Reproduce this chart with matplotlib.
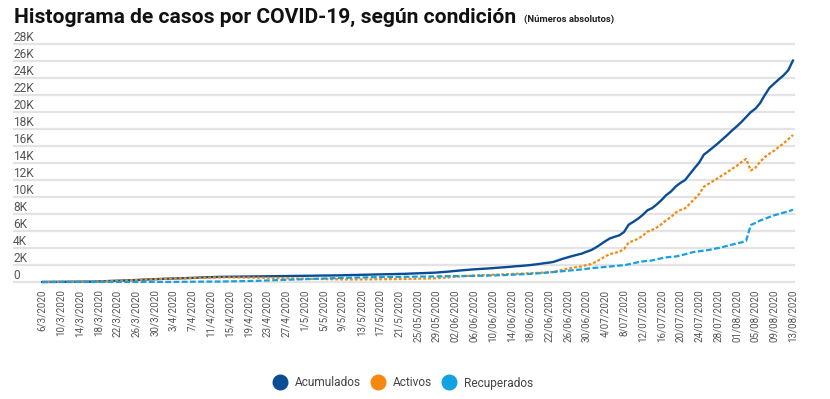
import numpy as np
import matplotlib
matplotlib.use("Agg")
import matplotlib.pyplot as plt
from matplotlib.lines import Line2D

# ---------------- data (daily, 6/3/2020 .. 13/08/2020) ----------------
acumulados = [
    1, 5, 9, 9, 13, 22, 23, 26, 27, 35, 41, 50, 69, 87, 113, 117, 134, 158, 177, 201, 231, 263, 295, 314, 330, 347,
    375, 396, 416, 435, 454, 467, 483, 502, 539, 558, 577, 595, 604, 612, 618, 626, 642, 649, 655, 660, 662, 669, 681, 686, 687, 693, 695, 697, 705, 719,
    733, 739, 742, 755, 761, 765, 773, 778, 792, 801, 815, 830, 843, 866, 882, 897, 903, 911, 918, 930, 951, 956, 984, 1000, 1022, 1047, 1056, 1084, 1105, 1157, 1194,
    1250, 1300, 1350, 1400, 1440, 1490, 1520, 1560, 1590, 1630, 1670, 1720, 1760, 1800, 1860, 1890, 1940, 1991, 2058, 2127, 2213, 2277, 2368, 2560, 2740, 2900, 3060, 3200, 3340, 3560,
    3750, 4060, 4420, 4800, 5130, 5320, 5490, 5880, 6750, 7080, 7450, 7900, 8440, 8700, 9140, 9650, 10230, 10640, 11230, 11650, 11990, 12690, 13380, 14040, 14980, 15400, 15850, 16310, 16800, 17290, 17820,
    18300, 18820, 19400, 19980, 20400, 21050, 22000, 22850, 23350, 23850, 24320, 24920, 26080,
]
activos = [
    1, 5, 9, 9, 13, 22, 23, 26, 27, 35, 41, 50, 68, 86, 112, 116, 133, 157, 173, 197, 227, 258, 290, 309, 325, 341,
    369, 390, 405, 416, 428, 437, 451, 467, 494, 507, 521, 534, 541, 545, 542, 538, 546, 541, 533, 528, 515, 501, 493, 480, 463, 451, 431, 412, 404, 392,
    394, 383, 365, 357, 345, 327, 318, 305, 309, 298, 299, 300, 300, 311, 316, 320, 318, 320, 319, 324, 337, 336, 358, 367, 382, 402, 404, 423, 437, 482, 512,
    565, 610, 652, 695, 725, 765, 785, 812, 828, 852, 875, 905, 922, 940, 974, 979, 1004, 1025, 1062, 1085, 1121, 1135, 1181, 1323, 1453, 1567, 1676, 1765, 1845, 1994,
    2114, 2373, 2682, 3011, 3290, 3429, 3557, 3875, 4644, 4852, 5089, 5447, 5925, 6121, 6417, 6813, 7279, 7625, 8170, 8464, 8660, 9196, 9761, 10337, 11202, 11549, 11884, 12219, 12584, 12920, 13305,
    13650, 14100, 14480, 13120, 13450, 14150, 14700, 15100, 15450, 15900, 16300, 16800, 17300,
]
recuperados = [
    0, 0, 0, 0, 0, 0, 0, 0, 0, 0, 0, 0, 0, 0, 0, 0, 0, 0, 2, 2, 2, 3, 3, 3, 3, 4,
    4, 4, 9, 17, 24, 28, 30, 33, 42, 48, 53, 58, 60, 64, 72, 84, 92, 104, 116, 126, 141, 162, 182, 200, 218, 236, 258, 279, 295, 321,
    333, 350, 371, 392, 410, 432, 449, 467, 477, 497, 510, 524, 537, 549, 560, 571, 579, 585, 593, 599, 607, 613, 619, 626, 633, 638, 645, 651, 658, 665, 672,
    675, 680, 688, 695, 705, 715, 725, 738, 752, 768, 785, 805, 828, 850, 875, 900, 925, 955, 985, 1030, 1080, 1130, 1175, 1225, 1275, 1320, 1370, 1420, 1480, 1550,
    1620, 1670, 1720, 1770, 1820, 1870, 1910, 1980, 2080, 2200, 2330, 2420, 2480, 2540, 2680, 2790, 2900, 2960, 3000, 3120, 3260, 3420, 3540, 3620, 3690, 3760, 3870, 3990, 4110, 4260, 4400,
    4530, 4660, 4820, 6700, 6950, 7230, 7440, 7640, 7850, 8000, 8150, 8310, 8500,
]
tick_labels = [
    "6/3/2020", "10/3/2020", "14/3/2020", "18/3/2020", "22/3/2020", "26/3/2020", "30/3/2020",
    "3/4/2020", "7/4/2020", "11/4/2020", "15/4/2020", "19/4/2020", "23/4/2020", "27/4/2020",
    "1/5/2020", "5/5/2020", "9/5/2020", "13/5/2020", "17/5/2020", "21/5/2020", "25/05/2020", "29/05/2020",
    "02/06/2020", "06/06/2020", "10/06/2020", "14/06/2020", "18/06/2020", "22/06/2020", "26/06/2020", "30/06/2020",
    "4/07/2020", "8/07/2020", "12/07/2020", "16/07/2020", "20/07/2020", "24/07/2020", "28/07/2020",
    "01/08/2020", "05/08/2020", "09/08/2020", "13/08/2020",
]
y_ticks = [0, 2000, 4000, 6000, 8000, 10000, 12000, 14000, 16000, 18000, 20000, 22000, 24000, 26000, 28000]
y_tick_labels = ["0", "2K", "4K", "6K", "8K", "10K", "12K", "14K", "16K", "18K", "20K", "22K", "24K", "26K", "28K"]
series_names = ["Acumulados", "Activos", "Recuperados"]
colors = ["#0b4d94", "#f5890f", "#13a1e2"]

# ---------------- figure ----------------
plt.rcParams["font.family"] = ["Roboto", "DejaVu Sans"]
W, H = 830, 399
fig = plt.figure(figsize=(W / 100, H / 100), dpi=100)

ax_left, ax_right = 13, 795
ylo, yhi = -300, 28300
px_per_unit = (282 - 44) / 28000
bottom_px = 282 + (0 - ylo) * px_per_unit
top_px = 44 - (yhi - 28000) * px_per_unit
ax = fig.add_axes([ax_left / W, 1 - bottom_px / H, (ax_right - ax_left) / W, (bottom_px - top_px) / H])

n = len(acumulados)
x = np.arange(n)
day_px = (793 - 42) / (n - 1)
ax.set_xlim(0 - (42 - ax_left) / day_px, (n - 1) + (ax_right - 793) / day_px)
ax.set_ylim(ylo, yhi)

for v in y_ticks:
    ax.axhline(v, color="#e3e3e3", lw=1.6, zorder=0)

ax.plot(x, acumulados, color=colors[0], lw=1.7, zorder=3, solid_capstyle="round")
ax.plot(x, activos, color=colors[1], lw=1.6, zorder=4, dashes=(1.3, 0.9))
ax.plot(x, recuperados, color=colors[2], lw=1.6, zorder=5, dashes=(2.6, 1.1))

for sp in ax.spines.values():
    sp.set_visible(False)
ax.set_yticks([])
ax.set_xticks(x[::4])
ax.set_xticklabels(tick_labels, rotation=90, fontsize=7.1, color="#555555")
ax.tick_params(axis="x", length=0, pad=3.5)

for v, lab in zip(y_ticks, y_tick_labels):
    ax.text(0.0, v + 400, lab, transform=ax.get_yaxis_transform(), ha="left", va="baseline",
            fontsize=8.6, color="#555555")

fig.text(14 / W, 1 - 23 / H, "Histograma de casos por COVID-19, según condición",
         fontsize=15.1, fontweight="bold", color="#111111", ha="left", va="baseline")
fig.text(524 / W, 1 - 22 / H, "(Números absolutos)", fontsize=6.8, fontweight="bold",
         color="#222222", ha="left", va="baseline")

handles = [Line2D([], [], marker="o", linestyle="none", markersize=10.5, color=c) for c in colors]
fig.legend(handles, series_names, loc="center", bbox_to_anchor=(403 / W, 1 - 383 / H), ncol=3,
           frameon=False, fontsize=8.6, handletextpad=0.7, columnspacing=0.75, labelcolor="#444444",
           handlelength=1.2)

fig.savefig("out.png", dpi=100)
